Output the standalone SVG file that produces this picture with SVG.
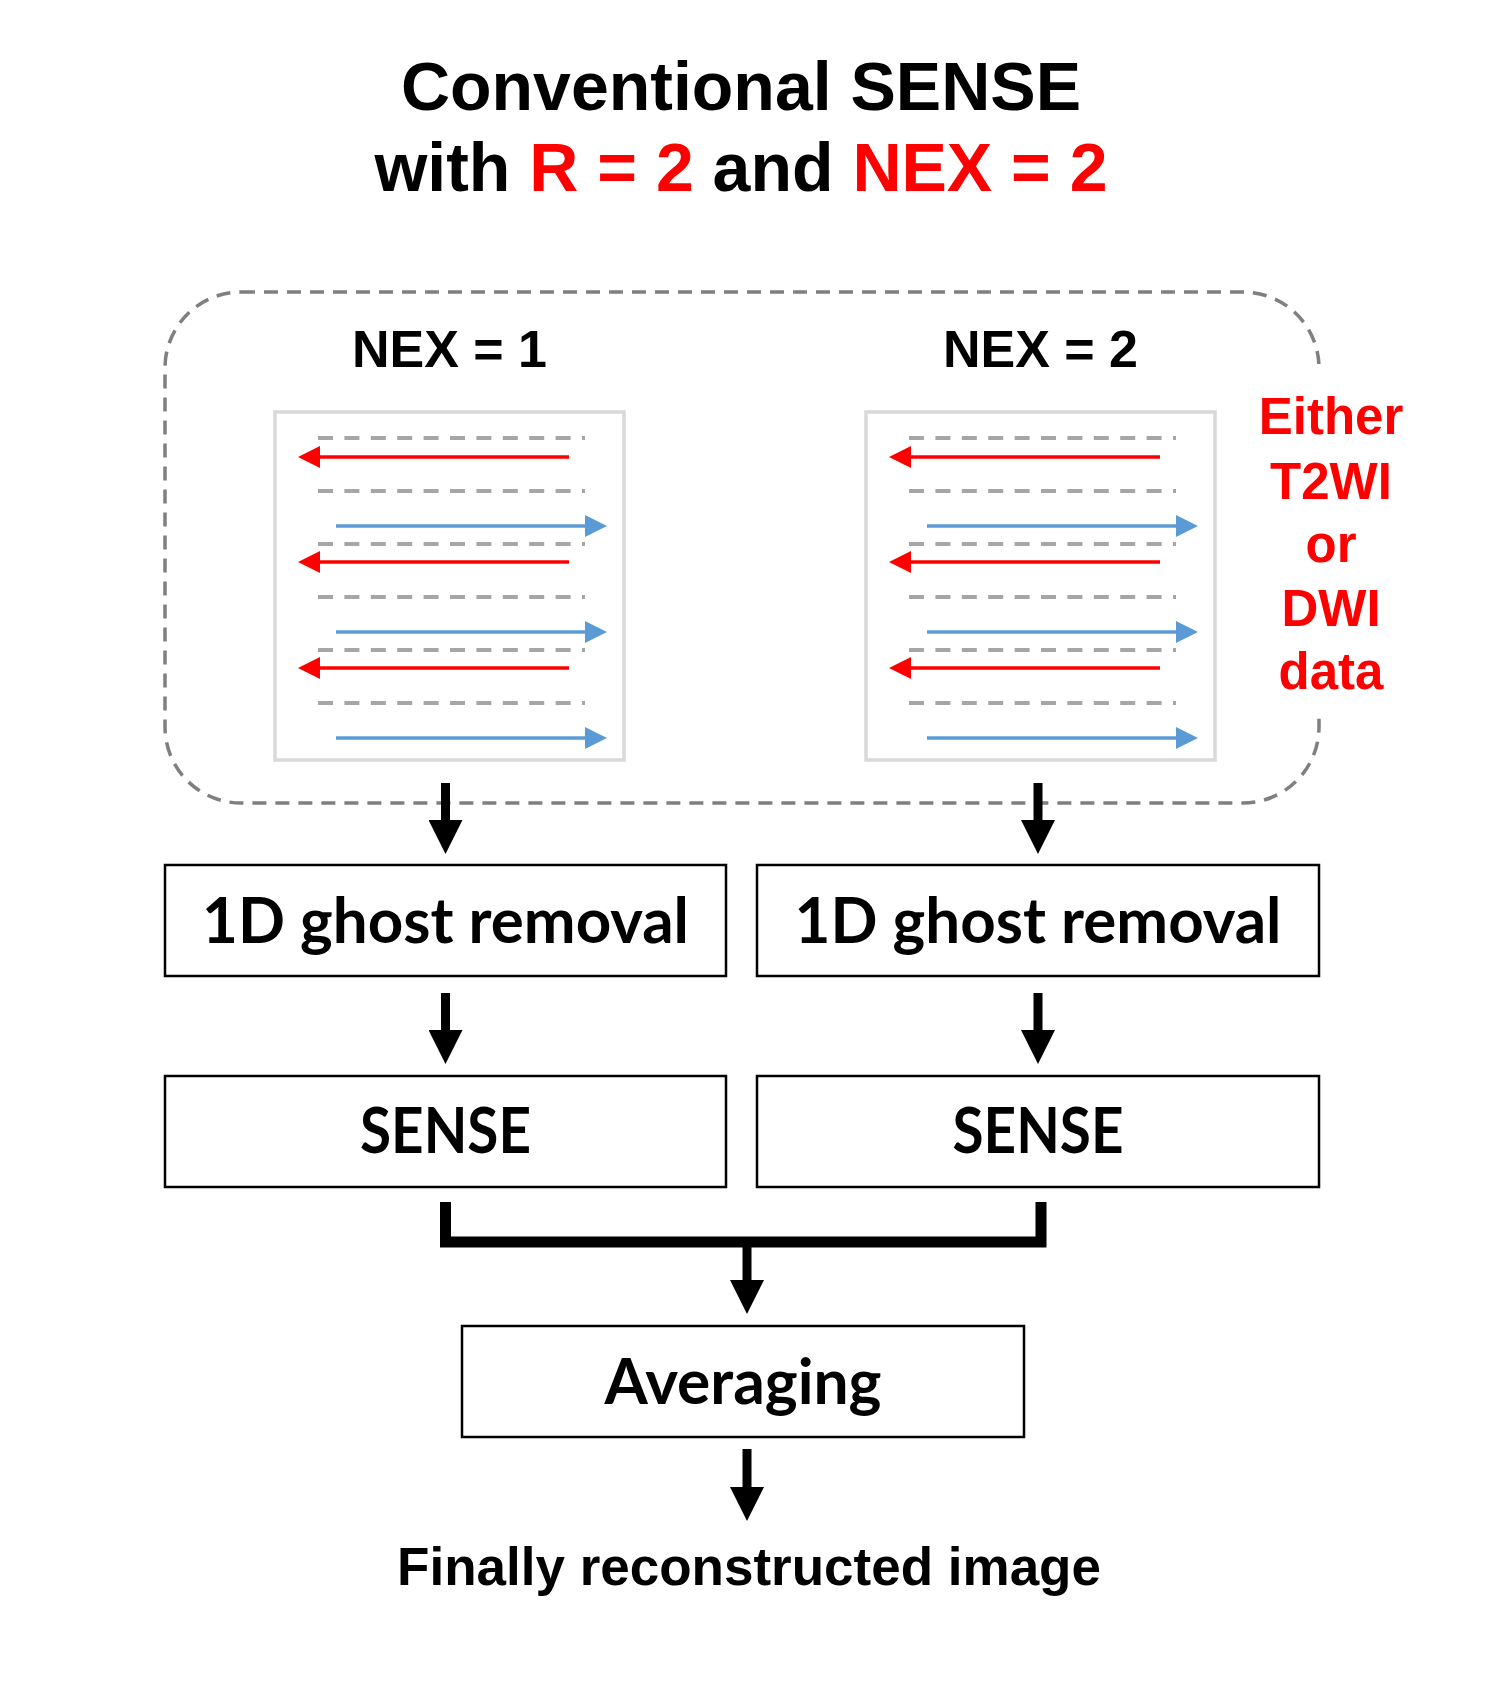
<svg xmlns="http://www.w3.org/2000/svg" width="1510" height="1694" viewBox="0 0 1510 1694">
<style>
.ar{font-family:"Liberation Sans",Arial,sans-serif;font-weight:bold;text-anchor:middle}
.cal{font-family:Lato,"Open Sans",sans-serif;font-weight:bold;text-anchor:middle;font-size:63px}
.red{fill:#ff0000}
.box{fill:#fff;stroke:#000;stroke-width:2.5}
.inner{fill:#fff;stroke:#d9d9d9;stroke-width:3.5}
.grid{stroke:#a6a6a6;stroke-width:4;stroke-dasharray:15 11.4}
.rl{stroke:#ff0000;stroke-width:3.5;marker-end:url(#hr)}
.bl{stroke:#5b9bd5;stroke-width:3.5;marker-end:url(#hb)}
.blk{stroke:#000;stroke-width:9;fill:none}
</style>
<defs>
<marker id="hr" markerUnits="userSpaceOnUse" markerWidth="22" markerHeight="22" refX="0" refY="11" orient="auto"><path d="M0,0 L22,11 L0,22 z" fill="#ff0000"/></marker>
<marker id="hb" markerUnits="userSpaceOnUse" markerWidth="22" markerHeight="22" refX="0" refY="11" orient="auto"><path d="M0,0 L22,11 L0,22 z" fill="#5b9bd5"/></marker>
<marker id="hk" markerUnits="userSpaceOnUse" markerWidth="34" markerHeight="34" refX="0" refY="17" orient="auto"><path d="M0,0 L34,17 L0,34 z" fill="#000"/></marker>
<g id="scan">
<line class="grid" x1="318" y1="438" x2="585" y2="438"/>
<line class="grid" x1="318" y1="491" x2="585" y2="491"/>
<line class="grid" x1="318" y1="544" x2="585" y2="544"/>
<line class="grid" x1="318" y1="597" x2="585" y2="597"/>
<line class="grid" x1="318" y1="650" x2="585" y2="650"/>
<line class="grid" x1="318" y1="703" x2="585" y2="703"/>
<line class="rl" x1="569" y1="457" x2="320" y2="457"/>
<line class="rl" x1="569" y1="562" x2="320" y2="562"/>
<line class="rl" x1="569" y1="668" x2="320" y2="668"/>
<line class="bl" x1="336" y1="526" x2="585" y2="526"/>
<line class="bl" x1="336" y1="632" x2="585" y2="632"/>
<line class="bl" x1="336" y1="738" x2="585" y2="738"/>
</g>
</defs>

<g id="title">
<text class="ar" x="741" y="110" font-size="68">Conventional SENSE</text>
<text class="ar" x="741" y="191" font-size="68">with <tspan class="red">R = 2</tspan> and <tspan class="red">NEX = 2</tspan></text>
</g>

<g id="group-data">
<rect x="165" y="292" width="1154" height="511" rx="76" ry="76" fill="none" stroke="#7f7f7f" stroke-width="3.5" stroke-dasharray="14 9"/>
<rect x="1252" y="364" width="160" height="350" fill="#fff"/>
<text class="ar red" font-size="51" x="1331" y="434">Either</text>
<text class="ar red" font-size="51" x="1331" y="499">T2WI</text>
<text class="ar red" font-size="51" x="1331" y="562">or</text>
<text class="ar red" font-size="51" x="1331" y="626">DWI</text>
<text class="ar red" font-size="51" x="1331" y="689">data</text>
</g>

<g id="nex1">
<text class="ar" x="449.5" y="367" font-size="52">NEX = 1</text>
<rect class="inner" x="275" y="412" width="349" height="348"/>
<use href="#scan"/>
</g>

<g id="nex2">
<text class="ar" x="1040.5" y="367" font-size="52">NEX = 2</text>
<rect class="inner" x="866" y="412" width="349" height="348"/>
<use href="#scan" transform="translate(591,0)"/>
</g>

<g id="ghost1">
<rect class="box" x="165" y="865" width="561" height="111"/>
<text class="cal" x="445.5" y="943" textLength="487" lengthAdjust="spacingAndGlyphs">1D ghost removal</text>
</g>
<g id="ghost2">
<rect class="box" x="757" y="865" width="562" height="111"/>
<text class="cal" x="1038" y="943" textLength="487" lengthAdjust="spacingAndGlyphs">1D ghost removal</text>
</g>
<g id="sense1">
<rect class="box" x="165" y="1076" width="561" height="111"/>
<text class="cal" x="445.5" y="1153" textLength="171" lengthAdjust="spacingAndGlyphs">SENSE</text>
</g>
<g id="sense2">
<rect class="box" x="757" y="1076" width="562" height="111"/>
<text class="cal" x="1038" y="1153" textLength="171" lengthAdjust="spacingAndGlyphs">SENSE</text>
</g>
<g id="averaging">
<rect class="box" x="462" y="1326" width="562" height="111"/>
<text class="cal" x="743" y="1404" textLength="277" lengthAdjust="spacingAndGlyphs">Averaging</text>
</g>
<g id="final">
<text class="ar" x="749" y="1585" font-size="53">Finally reconstructed image</text>
</g>

<g id="connectors">
<line class="blk" x1="445.5" y1="783" x2="445.5" y2="820" marker-end="url(#hk)"/>
<line class="blk" x1="1038" y1="783" x2="1038" y2="820" marker-end="url(#hk)"/>
<line class="blk" x1="445.5" y1="993" x2="445.5" y2="1030" marker-end="url(#hk)"/>
<line class="blk" x1="1038" y1="993" x2="1038" y2="1030" marker-end="url(#hk)"/>
<path d="M445.5,1202 V1242 H1041 V1202" stroke="#000" stroke-width="11" fill="none" stroke-linejoin="miter"/>
<line class="blk" x1="747" y1="1242" x2="747" y2="1280" marker-end="url(#hk)"/>
<line class="blk" x1="747" y1="1449" x2="747" y2="1487" marker-end="url(#hk)"/>
</g>
</svg>
